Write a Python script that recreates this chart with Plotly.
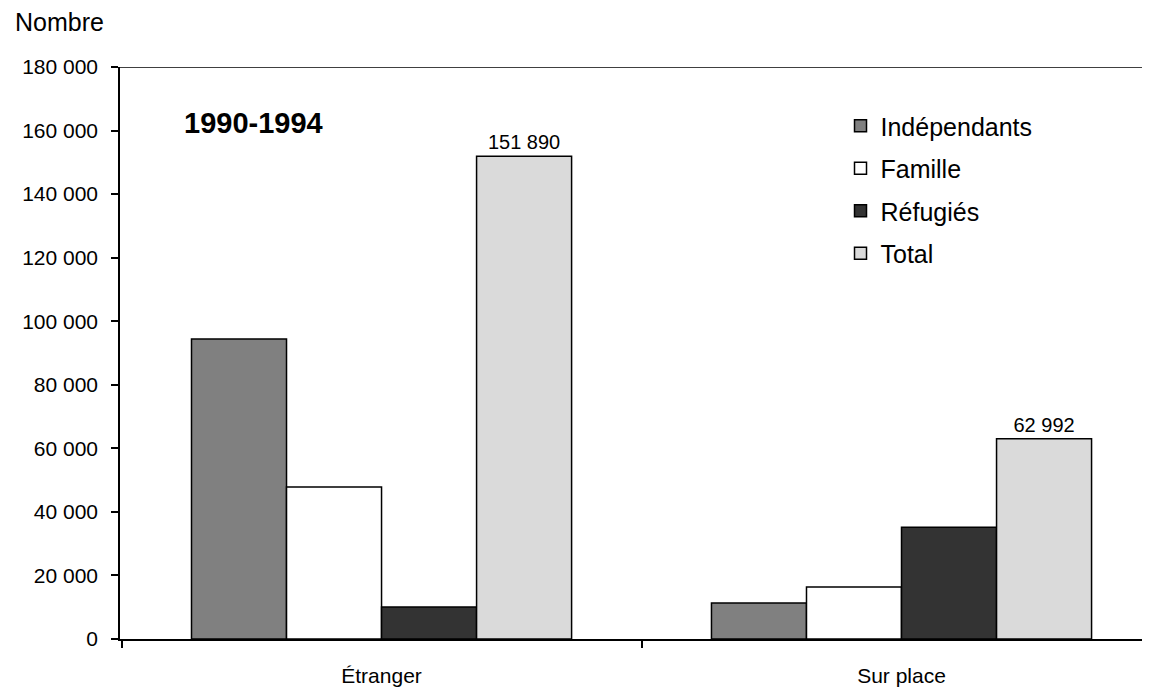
import plotly.graph_objects as go

categories = ["Étranger", "Sur place"]
independants = [94400, 11300]
famille = [47800, 16400]
refugies = [10100, 35200]
total = [151890, 62992]
series_names = ["Indépendants", "Famille", "Réfugiés", "Total"]
y_ticks = [0, 20000, 40000, 60000, 80000, 100000, 120000, 140000, 160000, 180000]

font = "Liberation Sans, Arial, sans-serif"
colors = ["#808080", "#ffffff", "#333333", "#dadada"]

fig = go.Figure()
for name, vals, col in zip(series_names, [independants, famille, refugies, total], colors):
    kw = {}
    if name == "Total":
        kw = dict(texttemplate="%{y:,d}", textposition="outside",
                  textfont=dict(size=20, color="black", family=font), cliponaxis=False)
    fig.add_trace(go.Bar(x=categories, y=vals, name=name, legendgroup=name,
                         marker=dict(color=col, line=dict(color="black", width=1.5)), **kw))

W, H = 1134, 679
fig.update_layout(
    width=W, height=H, autosize=False,
    margin=dict(l=112, r=0, t=59, b=48, autoexpand=False),
    paper_bgcolor="white", plot_bgcolor="white",
    barmode="group", bargap=0.269, bargroupgap=0,
    separators=", ",
    font=dict(family=font, color="black"),
    showlegend=True,
    legend=dict(x=0.705, y=0.937, xanchor="left", yanchor="top",
                font=dict(size=25, family=font), tracegroupgap=7,
                bgcolor="rgba(0,0,0,0)"),
)
fig.update_yaxes(range=[0, 180000], tickvals=y_ticks, tickformat=",d",
                 showgrid=False, zeroline=False, showline=True, linecolor="black", linewidth=1.5,
                 ticks="outside", ticklen=7, tickwidth=1.5, tickcolor="black",
                 tickfont=dict(size=21, family=font), ticklabelstandoff=9, automargin=False)
fig.update_xaxes(range=[-0.503, 1.4625], showgrid=False, showline=True, linecolor="black", linewidth=1.5,
                 ticks="outside", ticklen=7, tickwidth=1.5, tickcolor="black", tickson="boundaries",
                 tickfont=dict(size=21, family=font), ticklabelstandoff=17, automargin=False)
fig.add_shape(type="line", xref="paper", yref="y", x0=0, x1=1, y0=180000, y1=180000,
              line=dict(color="black", width=1.5))
fig.add_annotation(text="Nombre", xref="paper", yref="paper", x=-0.1047, y=1.078,
                   xanchor="left", yanchor="middle", showarrow=False,
                   font=dict(size=25, family=font))
fig.add_annotation(text="<b>1990-1994</b>", xref="paper", yref="paper", x=0.0607, y=0.902,
                   xanchor="left", yanchor="middle", showarrow=False,
                   font=dict(size=29, family=font))
fig.write_html("out.html")
